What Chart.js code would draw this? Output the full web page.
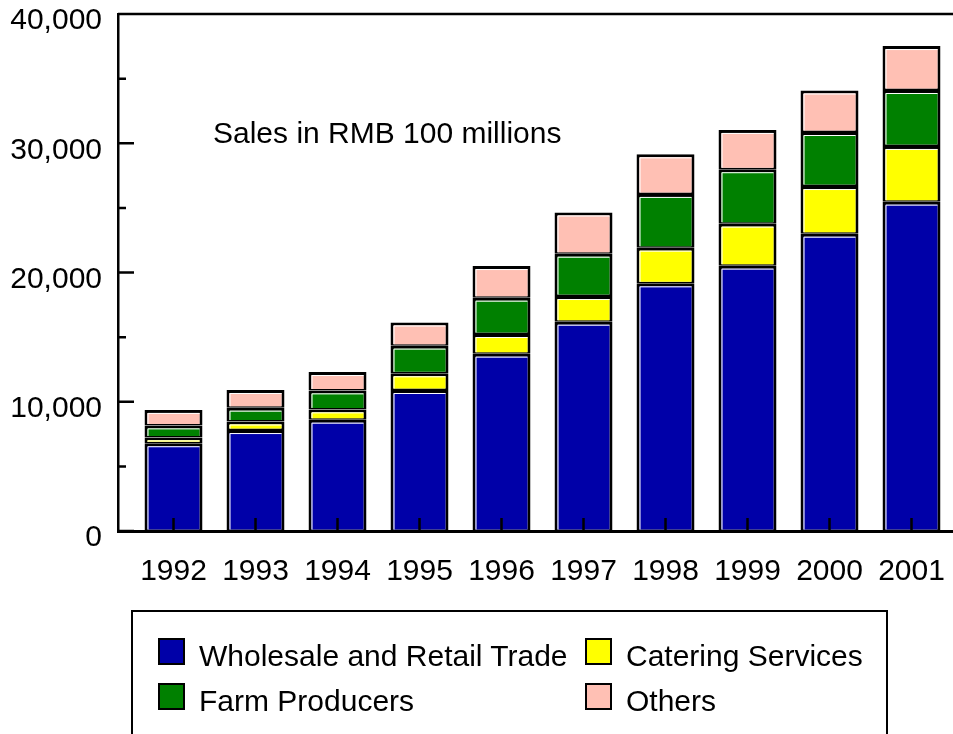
<!DOCTYPE html>
<html lang="en">
<head>
  <meta charset="UTF-8" />
  <title>Sales in RMB 100 millions</title>
  <script src="https://cdn.jsdelivr.net/npm/chart.js"></script>
  <style>
    body {
      margin: 0;
      background: #fff;
      font-family: 'Liberation Sans', Arial, sans-serif;
    }
    .wrap {
      position: relative;
      width: 953px;
      height: 734px;
      overflow: hidden;
    }
    #chart {
      position: absolute;
      left: 0;
      top: 0;
    }
    .note {
      position: absolute;
      left: 213px;
      top: 118px;
      font-size: 30px;
      line-height: 30px;
      color: #000;
      white-space: nowrap;
    }
    /* legend box */
    .legend {
      position: absolute;
      left: 131px;
      top: 610px;
      width: 753px;
      height: 140px;
      border: 2px solid #000;
    }
    .item {
      position: absolute;
      font-size: 30px;
      line-height: 30px;
      white-space: nowrap;
      color: #000;
    }
    .item .sw {
      position: absolute;
      left: 0;
      top: -2px;
      width: 23px;
      height: 23px;
      border: 2px solid #000;
    }
    .item span {
      position: absolute;
      left: 41px;
      top: 1px;
    }
  </style>
</head>
<body>
  <div class="wrap">
    <canvas id="chart" width="953" height="734"></canvas>
    <div class="note">Sales in RMB 100 millions</div>
    <div class="legend" id="legend"></div>
  </div>

  <script>
    // values (RMB 100 millions)
    const years = [1992, 1993, 1994, 1995, 1996, 1997, 1998, 1999, 2000, 2001];
    const wholesale = [6790, 7810, 8610, 10910, 13720, 16190, 19160, 20530, 23000, 25480];
    const catering = [450, 660, 800, 1290, 1520, 1990, 2760, 3250, 3690, 4310];
    const farm = [930, 1070, 1470, 2140, 2810, 3270, 4160, 4210, 4180, 4330];
    const others = [1200, 1370, 1420, 1790, 2450, 3190, 3060, 3040, 3210, 3400];

    const seriesNames = ['Wholesale and Retail Trade', 'Catering Services', 'Farm Producers', 'Others'];
    const seriesColors = ['#0000a8', '#ffff00', '#008000', '#ffc0b4'];
    const yTicks = [0, 10000, 20000, 30000, 40000];

    const FONT = "'Liberation Sans', Arial, sans-serif";

    function toPoints(arr) {
      return arr.map((v, i) => ({ x: years[i], y: v }));
    }

    const datasets = [wholesale, catering, farm, others].map((arr, i) => ({
      label: seriesNames[i],
      data: toPoints(arr),
      backgroundColor: seriesColors[i],
      borderColor: '#000',
      borderWidth: { top: 3, bottom: 1.5, left: 3, right: 3 },
      borderSkipped: false,
      categoryPercentage: 1,
      barPercentage: 0.707
    }));

    // inward tick marks + top frame line
    const frameTicks = {
      id: 'frameTicks',
      afterDatasetsDraw(chart) {
        // thin white highlight inside each segment (top and left)
        const ctx = chart.ctx;
        ctx.save();
        ctx.strokeStyle = '#fff';
        ctx.lineWidth = 1;
        chart.data.datasets.forEach((ds, di) => {
          chart.getDatasetMeta(di).data.forEach(bar => {
            const p = bar.getProps(['x', 'y', 'base', 'width'], true);
            const l = p.x - p.width / 2 + 3;
            const r = p.x + p.width / 2 - 3;
            const t = p.y + 3;
            const b = p.base - 1.5;
            ctx.beginPath();
            ctx.moveTo(l + 0.5, b);
            ctx.lineTo(l + 0.5, t + 0.5);
            ctx.lineTo(r, t + 0.5);
            ctx.stroke();
          });
        });
        ctx.restore();
      },
      afterDraw(chart) {
        const { ctx, chartArea, scales } = chart;
        const x = scales.x, y = scales.y;
        ctx.save();
        ctx.strokeStyle = '#000';
        ctx.lineWidth = 2.5;
        ctx.beginPath();
        ctx.moveTo(chartArea.left, chartArea.top);
        ctx.lineTo(chartArea.right, chartArea.top);
        y.ticks.forEach(t => {
          const py = y.getPixelForValue(t.value);
          const len = t.value % 10000 === 0 ? 16 : 8;
          ctx.moveTo(chartArea.left, py);
          ctx.lineTo(chartArea.left + len, py);
        });
        x.ticks.forEach(t => {
          const px = x.getPixelForValue(t.value);
          ctx.moveTo(px, chartArea.bottom);
          ctx.lineTo(px, chartArea.bottom - 13);
        });
        ctx.stroke();
        ctx.restore();
      }
    };

    new Chart(document.getElementById('chart'), {
      type: 'bar',
      data: { datasets: datasets },
      options: {
        responsive: false,
        animation: false,
        layout: { padding: { top: 14, right: 0, bottom: 0, left: 0 } },
        plugins: {
          legend: { display: false },
          tooltip: { enabled: false }
        },
        scales: {
          x: {
            type: 'linear',
            stacked: true,
            offset: false,
            min: 1991.323,
            max: 2001.506,
            afterBuildTicks: s => { s.ticks = years.map(v => ({ value: v })); },
            afterFit: s => { s.height = 203; s.paddingLeft = 0; s.paddingRight = 0; },
            grid: { display: false, drawTicks: false, offset: false },
            border: { display: true, color: '#000', width: 3 },
            ticks: {
              color: '#000',
              font: { family: FONT, size: 30 },
              padding: 23,
              maxRotation: 0,
              autoSkip: false,
              callback: v => String(v)
            }
          },
          y: {
            stacked: true,
            min: 0,
            max: 40000,
            afterBuildTicks: s => {
              const t = [];
              for (let v = 0; v <= 40000; v += 5000) t.push({ value: v });
              s.ticks = t;
            },
            afterFit: s => { s.width = 118; s.paddingTop = 0; s.paddingBottom = 0; },
            grid: { display: false, drawTicks: false },
            border: { display: true, color: '#000', width: 2.5 },
            ticks: {
              color: '#000',
              font: { family: FONT, size: 30 },
              padding: 16,
              labelOffset: 7,
              callback: v => yTicks.includes(v) ? v.toLocaleString('en-US') : ''
            }
          }
        }
      },
      plugins: [frameTicks]
    });

    // legend: two columns, same order as the picture
    const legendOrder = [
      { i: 0, left: 25, top: 28 },
      { i: 1, left: 452, top: 28 },
      { i: 2, left: 25, top: 73 },
      { i: 3, left: 452, top: 73 }
    ];
    const legend = document.getElementById('legend');
    legendOrder.forEach(o => {
      const d = document.createElement('div');
      d.className = 'item';
      d.style.left = o.left + 'px';
      d.style.top = o.top + 'px';
      d.innerHTML = '<div class="sw" style="background:' + seriesColors[o.i] + '"></div><span>' + seriesNames[o.i] + '</span>';
      legend.appendChild(d);
    });
  </script>
</body>
</html>
